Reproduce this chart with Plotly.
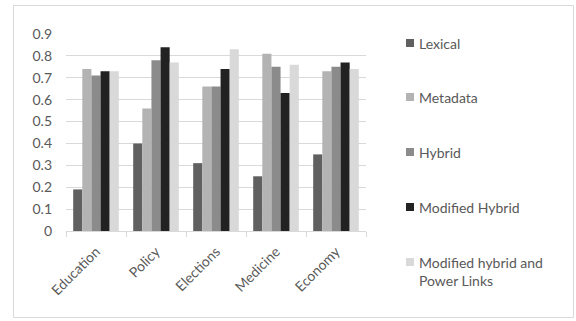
import plotly.graph_objects as go

categories = ["Education", "Policy", "Elections", "Medicine", "Economy"]
series_names = ["Lexical", "Metadata", "Hybrid", "Modified Hybrid",
                "Modified hybrid and<br>Power Links"]
lexical = [0.19, 0.40, 0.31, 0.25, 0.35]
metadata = [0.74, 0.56, 0.66, 0.81, 0.73]
hybrid = [0.71, 0.78, 0.66, 0.75, 0.75]
modified_hybrid = [0.73, 0.84, 0.74, 0.63, 0.77]
modified_power = [0.73, 0.77, 0.83, 0.76, 0.74]
y_ticks = [0, 0.1, 0.2, 0.3, 0.4, 0.5, 0.6, 0.7, 0.8, 0.9]

series_values = [lexical, metadata, hybrid, modified_hybrid, modified_power]
colors = ["#606060", "#b3b3b3", "#8b8b8b", "#222222", "#d9d9d9"]

FONT = "Lato"
TXT = "#595959"
W, H = 576, 321

fig = go.Figure()
for name, vals, col in zip(series_names, series_values, colors):
    fig.add_trace(go.Bar(x=categories, y=vals, name=name, marker_color=col,
                         marker_line_width=0, showlegend=False))

# Legend on the right: a small colour square plus the series label
legend_rows = [43, 97, 152, 207, 262]
shapes = [dict(type="rect", xref="paper", yref="paper",
               x0=(13.5 - 66) / 300, x1=(573.5 - 66) / 300,
               y0=(231 - 317.5) / 197, y1=(231 - 5.5) / 197,
               line=dict(color="#d9d9d9", width=1), layer="below")]
annotations = []
for name, col, yc in zip(series_names, colors, legend_rows):
    shapes.append(dict(type="rect", xref="paper", yref="paper",
                       x0=(406 - 66) / 300, x1=(414 - 66) / 300,
                       y0=(231 - (yc + 4)) / 197, y1=(231 - (yc - 4)) / 197,
                       fillcolor=col, line=dict(width=0)))
    two_line = "<br>" in name
    annotations.append(dict(
        text=name, xref="paper", yref="paper", showarrow=False,
        x=(417 - 66) / 300, y=(231 - (yc - 10 if two_line else yc)) / 197,
        xanchor="left", yanchor="top" if two_line else "middle", align="left",
        font=dict(family=FONT, size=14, color=TXT)))

fig.update_layout(
    width=W, height=H,
    margin=dict(l=66, r=210, t=34, b=90),
    paper_bgcolor="white", plot_bgcolor="white",
    barmode="group", bargap=0.24, bargroupgap=0,
    showlegend=False,
    font=dict(family=FONT, size=14, color=TXT),
    xaxis=dict(showline=True, linecolor="#d9d9d9", linewidth=1,
               ticks="outside", tickson="boundaries", ticklen=5,
               tickcolor="#d9d9d9", tickangle=-45, showgrid=False,
               ticklabelstandoff=6,
               tickfont=dict(family=FONT, size=14, color=TXT)),
    yaxis=dict(range=[0, 0.9], tickvals=y_ticks,
               ticktext=[f"{v:g}" for v in y_ticks],
               showgrid=True, gridcolor="#d9d9d9", gridwidth=1,
               zeroline=False, showline=False, ticklabelstandoff=13,
               tickfont=dict(family=FONT, size=14, color=TXT)),
    shapes=shapes,
    annotations=annotations,
)

fig.write_html("out.html")
